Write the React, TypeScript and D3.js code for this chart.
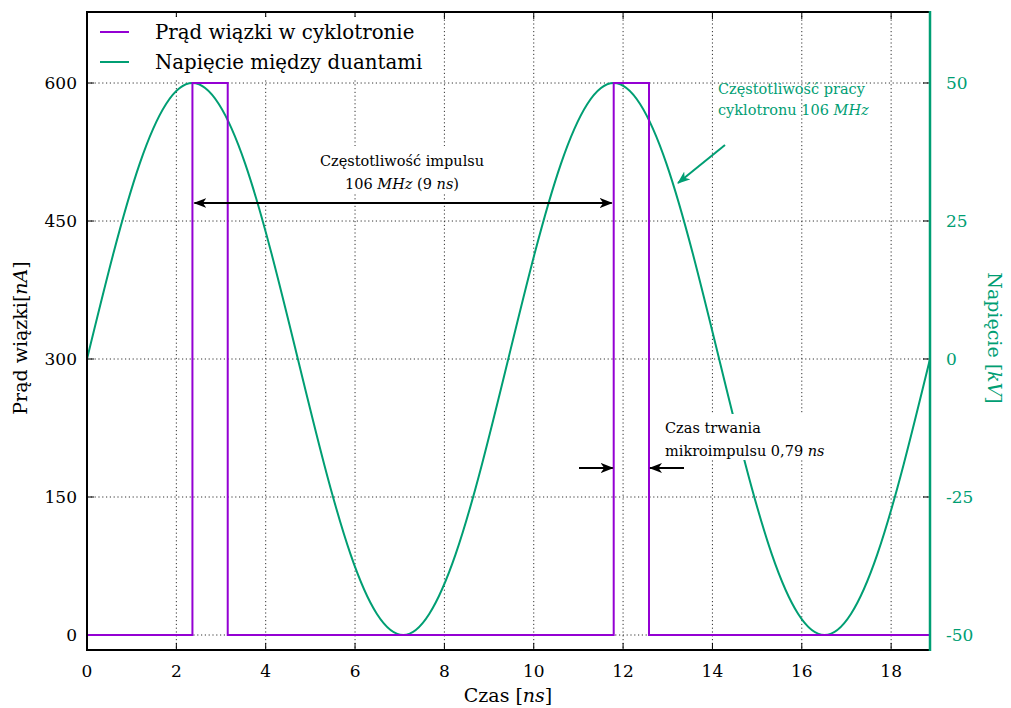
import React, { useEffect } from "react";
import * as d3 from "d3";

const W = 1011, H = 708;
const M = { left: 87, right: 930, top: 12, bottom: 650 };

// X axis ticks (ns)
const xTicks = [0, 2, 4, 6, 8, 10, 12, 14, 16, 18];
const xDomain = [0, 18.87];
// Left axis (current, nA)
const leftTicks = [0, 150, 300, 450, 600];
const leftDomain = [-16.3, 677.2];
// Right axis (voltage, kV)
const rightTicks = [-50, -25, 0, 25, 50];
const rightTickLabels = ["-50", "-25", "0", "25", "50"];
const rightDomain = [-52.72, 62.86];

// Beam current (step function)
const pulseT = [0, 2.36, 2.36, 3.15, 3.15, 11.79, 11.79, 12.58, 12.58, 18.87];
const pulseI = [0, 0, 600, 600, 0, 0, 600, 600, 0, 0];

// Voltage between dees
const voltT = [0, 0.59, 1.18, 1.77, 2.36, 2.95, 3.54, 4.13, 4.72, 5.31, 5.9, 6.49, 7.08, 7.66, 8.25, 8.84, 9.43, 10.02, 10.61, 11.2, 11.79, 12.38, 12.97, 13.56, 14.15, 14.74, 15.33, 15.92, 16.51, 17.1, 17.69, 18.28, 18.87];
const voltV = [0, 19.1, 35.4, 46.2, 50, 46.2, 35.4, 19.1, 0, -19.1, -35.4, -46.2, -50, -46.2, -35.4, -19.1, 0, 19.1, 35.4, 46.2, 50, 46.2, 35.4, 19.1, 0, -19.1, -35.4, -46.2, -50, -46.2, -35.4, -19.1, 0];

const PURPLE = "#9400D3";
const GREEN = "#009E73";
const FONT = '"DejaVu Serif", "Liberation Serif", serif';

export default function App() {
  useEffect(() => {
    document.body.style.margin = "0";
  }, []);

  const x = d3.scaleLinear().domain(xDomain).range([M.left, M.right]);
  const yL = d3.scaleLinear().domain(leftDomain).range([M.bottom, M.top]);
  const yR = d3.scaleLinear().domain(rightDomain).range([M.bottom, M.top]);

  const pulsePath = d3.line<number>().x((_, i) => x(pulseT[i])).y((d) => yL(d))(pulseI) || "";
  const voltPath = d3.line<number>().x((_, i) => x(voltT[i])).y((d) => yR(d)).curve(d3.curveNatural)(voltV) || "";

  const grid = "#333";
  const dash = "1.2,2.6";

  return (
    <svg width={W} height={H} style={{ display: "block", background: "#fff", fontFamily: FONT }}>
      <defs>
        <marker id="ahB" viewBox="0 0 13 10" refX="12" refY="5" markerWidth="13" markerHeight="10" markerUnits="userSpaceOnUse" orient="auto-start-reverse">
          <path d="M0,0 L13,5 L0,10 L3.5,5 Z" fill="#000" />
        </marker>
        <marker id="ahG" viewBox="0 0 13 10" refX="12" refY="5" markerWidth="13" markerHeight="10" markerUnits="userSpaceOnUse" orient="auto">
          <path d="M0,0 L13,5 L0,10 L3.5,5 Z" fill={GREEN} />
        </marker>
      </defs>

      {/* grid */}
      {xTicks.filter((t) => t > 0).map((t) => (
        <line key={"gx" + t} x1={x(t)} x2={x(t)} y1={M.top} y2={M.bottom} stroke={grid} strokeWidth={1} strokeDasharray={dash} />
      ))}
      {leftTicks.map((t) => (
        <line key={"gy" + t} x1={M.left} x2={M.right} y1={yL(t)} y2={yL(t)} stroke={grid} strokeWidth={1} strokeDasharray={dash} />
      ))}

      {/* ticks */}
      {xTicks.map((t) => (
        <g key={"tx" + t}>
          <line x1={x(t)} x2={x(t)} y1={M.bottom} y2={M.bottom - 7} stroke="#000" strokeWidth={1} />
          <line x1={x(t)} x2={x(t)} y1={M.top} y2={M.top + 7} stroke="#000" strokeWidth={1} />
          <text x={x(t)} y={677} textAnchor="middle" fontSize={17}>{t}</text>
        </g>
      ))}
      {leftTicks.map((t) => (
        <g key={"tl" + t}>
          <line x1={M.left} x2={M.left + 7} y1={yL(t)} y2={yL(t)} stroke="#000" strokeWidth={1} />
          <text x={77} y={yL(t) + 6} textAnchor="end" fontSize={17}>{t}</text>
        </g>
      ))}
      {rightTicks.map((t, i) => (
        <g key={"tr" + t}>
          <line x1={M.right} x2={M.right - 7} y1={yR(t)} y2={yR(t)} stroke="#000" strokeWidth={1} />
          <text x={946} y={yR(t) + 6} textAnchor="start" fontSize={17} fill={GREEN}>{rightTickLabels[i]}</text>
        </g>
      ))}

      {/* data */}
      <path d={voltPath} fill="none" stroke={GREEN} strokeWidth={2} />
      <path d={pulsePath} fill="none" stroke={PURPLE} strokeWidth={2} />

      {/* frame */}
      <path d={`M${M.right},${M.top} L${M.left},${M.top} L${M.left},${M.bottom} L${M.right},${M.bottom}`} fill="none" stroke="#000" strokeWidth={2} />
      <line x1={M.right} x2={M.right} y1={M.top - 1} y2={M.bottom + 1} stroke={GREEN} strokeWidth={2.5} />

      {/* axis titles */}
      <text x={508} y={702} textAnchor="middle" fontSize={19}>
        Czas [<tspan fontStyle="italic">ns</tspan>]
      </text>
      <text transform={`translate(27,338) rotate(-90)`} textAnchor="middle" fontSize={19}>
        Prąd wiązki[<tspan fontStyle="italic">nA</tspan>]
      </text>
      <text transform={`translate(988,338) rotate(90)`} textAnchor="middle" fontSize={19} fill={GREEN}>
        Napięcie [<tspan fontStyle="italic">kV</tspan>]
      </text>

      {/* legend */}
      <rect x={92} y={17} width={340} height={62} fill="#fff" />
      <line x1={100} x2={129} y1={32} y2={32} stroke={PURPLE} strokeWidth={2} />
      <text x={155} y={39} fontSize={19.8}>Prąd wiązki w cyklotronie</text>
      <line x1={100} x2={129} y1={62} y2={62} stroke={GREEN} strokeWidth={2} />
      <text x={155} y={69} fontSize={19.8}>Napięcie między duantami</text>

      {/* annotation: pulse frequency */}
      <rect x={310} y={146} width={188} height={48} fill="#fff" />
      <text x={402} y={166} textAnchor="middle" fontSize={14.5}>Częstotliwość impulsu</text>
      <text x={402} y={189} textAnchor="middle" fontSize={14.5}>
        106 <tspan fontStyle="italic">MHz</tspan> (9 <tspan fontStyle="italic">ns</tspan>)
      </text>
      <line x1={x(2.36) + 2} x2={x(11.79) - 2} y1={203} y2={203} stroke="#000" strokeWidth={2} markerStart="url(#ahB)" markerEnd="url(#ahB)" />

      {/* annotation: cyclotron frequency */}
      <text x={718} y={94} fontSize={14.5} fill={GREEN}>Częstotliwość pracy</text>
      <text x={718} y={115} fontSize={14.5} fill={GREEN}>
        cyklotronu 106 <tspan fontStyle="italic">MHz</tspan>
      </text>
      <line x1={725} y1={145} x2={678} y2={183} stroke={GREEN} strokeWidth={2} markerEnd="url(#ahG)" />

      {/* annotation: micro-pulse duration */}
      <rect x={660} y={414} width={172} height={46} fill="#fff" />
      <text x={665} y={433} fontSize={14.5}>Czas trwania</text>
      <text x={665} y={456} fontSize={14.5}>
        mikroimpulsu 0,79 <tspan fontStyle="italic">ns</tspan>
      </text>
      <line x1={579} x2={x(11.79) - 1} y1={468} y2={468} stroke="#000" strokeWidth={2} markerEnd="url(#ahB)" />
      <line x1={684} x2={x(12.58) + 1} y1={468} y2={468} stroke="#000" strokeWidth={2} markerEnd="url(#ahB)" />
    </svg>
  );
}
